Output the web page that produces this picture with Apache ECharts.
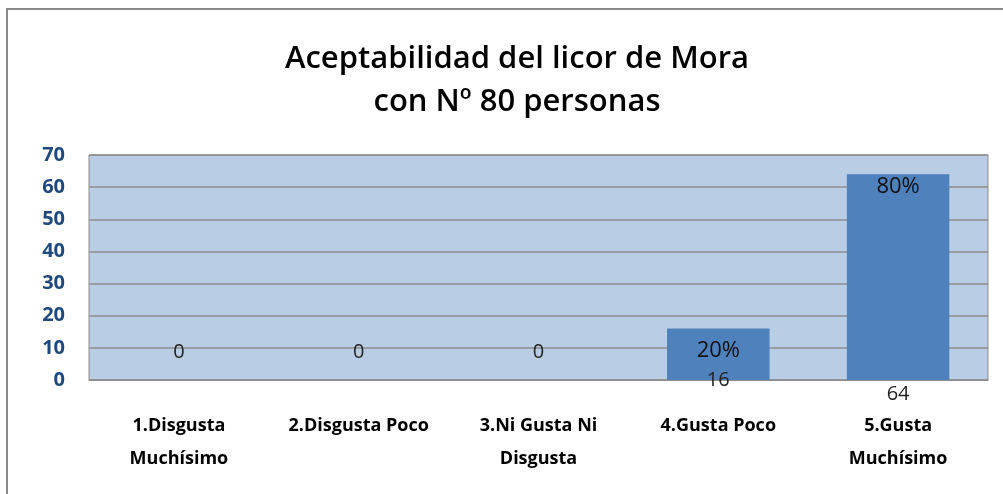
<!DOCTYPE html>
<html>
<head>
<meta charset="utf-8">
<script src="https://cdn.jsdelivr.net/npm/echarts@6/dist/echarts.min.js"></script>
<style>
  html, body { margin: 0; padding: 0; background: #fff; }
  #chart { width: 1003px; height: 494px; }
</style>
</head>
<body>
<div id="chart"></div>
<script>
// datos del gráfico
const categorias = ['1.Disgusta\nMuchísimo', '2.Disgusta Poco', '3.Ni Gusta Ni\nDisgusta', '4.Gusta Poco', '5.Gusta\nMuchísimo'];
const personas = [0, 0, 0, 16, 64];
const porcentajes = ['', '', '', '20%', '80%'];
const ejeY = [0, 10, 20, 30, 40, 50, 60, 70];

const chart = echarts.init(document.getElementById('chart'));

// etiqueta del valor: los ceros van dentro del área, el resto bajo el eje
const etiquetasValor = personas.map(v => ({
    value: v,
    label: v === 0 ? { offset: [0, -42] } : (v < 20 ? { offset: [0, -14] } : {})
}));

const option = {
    animation: false,
    graphic: [{
        type: 'rect',
        shape: { x: 7, y: 9, width: 1100, height: 600 },
        style: { fill: 'none', stroke: '#8a8a8a', lineWidth: 2 },
        z: -10
    }],
    title: {
        text: 'Aceptabilidad del licor de Mora\ncon Nº 80 personas',
        left: 512,
        textAlign: 'center',
        top: 33,
        textStyle: {
            fontFamily: '"Open Sans", sans-serif',
            fontSize: 31,
            fontWeight: 600,
            color: '#000',
            lineHeight: 43
        }
    },
    grid: { left: 89, right: 15, top: 155, bottom: 114, backgroundColor: '#B9CDE5', show: true, borderColor: '#8c8c8c', borderWidth: 1 },
    xAxis: {
        type: 'category',
        data: categorias,
        axisTick: { show: false },
        axisLine: { lineStyle: { color: '#8c8c8c' } },
        axisLabel: {
            margin: 29,
            color: '#000',
            fontSize: 18,
            fontWeight: 'bold',
            fontFamily: '"Open Sans", sans-serif',
            lineHeight: 33,
            interval: 0
        }
    },
    yAxis: {
        type: 'value',
        min: ejeY[0],
        max: ejeY[ejeY.length - 1],
        interval: 10,
        axisLine: { show: false },
        axisTick: { show: false },
        splitLine: { lineStyle: { color: '#8c8c8c', width: 1.5 } },
        axisLabel: {
            margin: 24,
            color: '#1F497D',
            fontSize: 20,
            fontWeight: 'bold',
            fontFamily: '"Open Sans", sans-serif'
        }
    },
    series: [
        {
            type: 'bar',
            data: personas,
            barWidth: '57%',
            itemStyle: { color: '#4F81BD' },
            label: {
                show: true,
                position: 'insideTop',
                distance: 1,
                fontSize: 22,
                color: '#111',
                fontFamily: '"Open Sans", sans-serif',
                formatter: p => porcentajes[p.dataIndex]
            },
            labelLayout: (p) => p.dataIndex === 3 ? { dy: 10 } : {}
        },
        {
            type: 'bar',
            data: etiquetasValor,
            barWidth: '57%',
            barGap: '-100%',
            itemStyle: { color: 'rgba(0,0,0,0)' },
            label: {
                show: true,
                position: 'bottom',
                distance: 4,
                fontSize: 20,
                color: '#222',
                fontFamily: '"Open Sans", sans-serif'
            }
        }
    ]
};

chart.setOption(option);
</script>
</body>
</html>
